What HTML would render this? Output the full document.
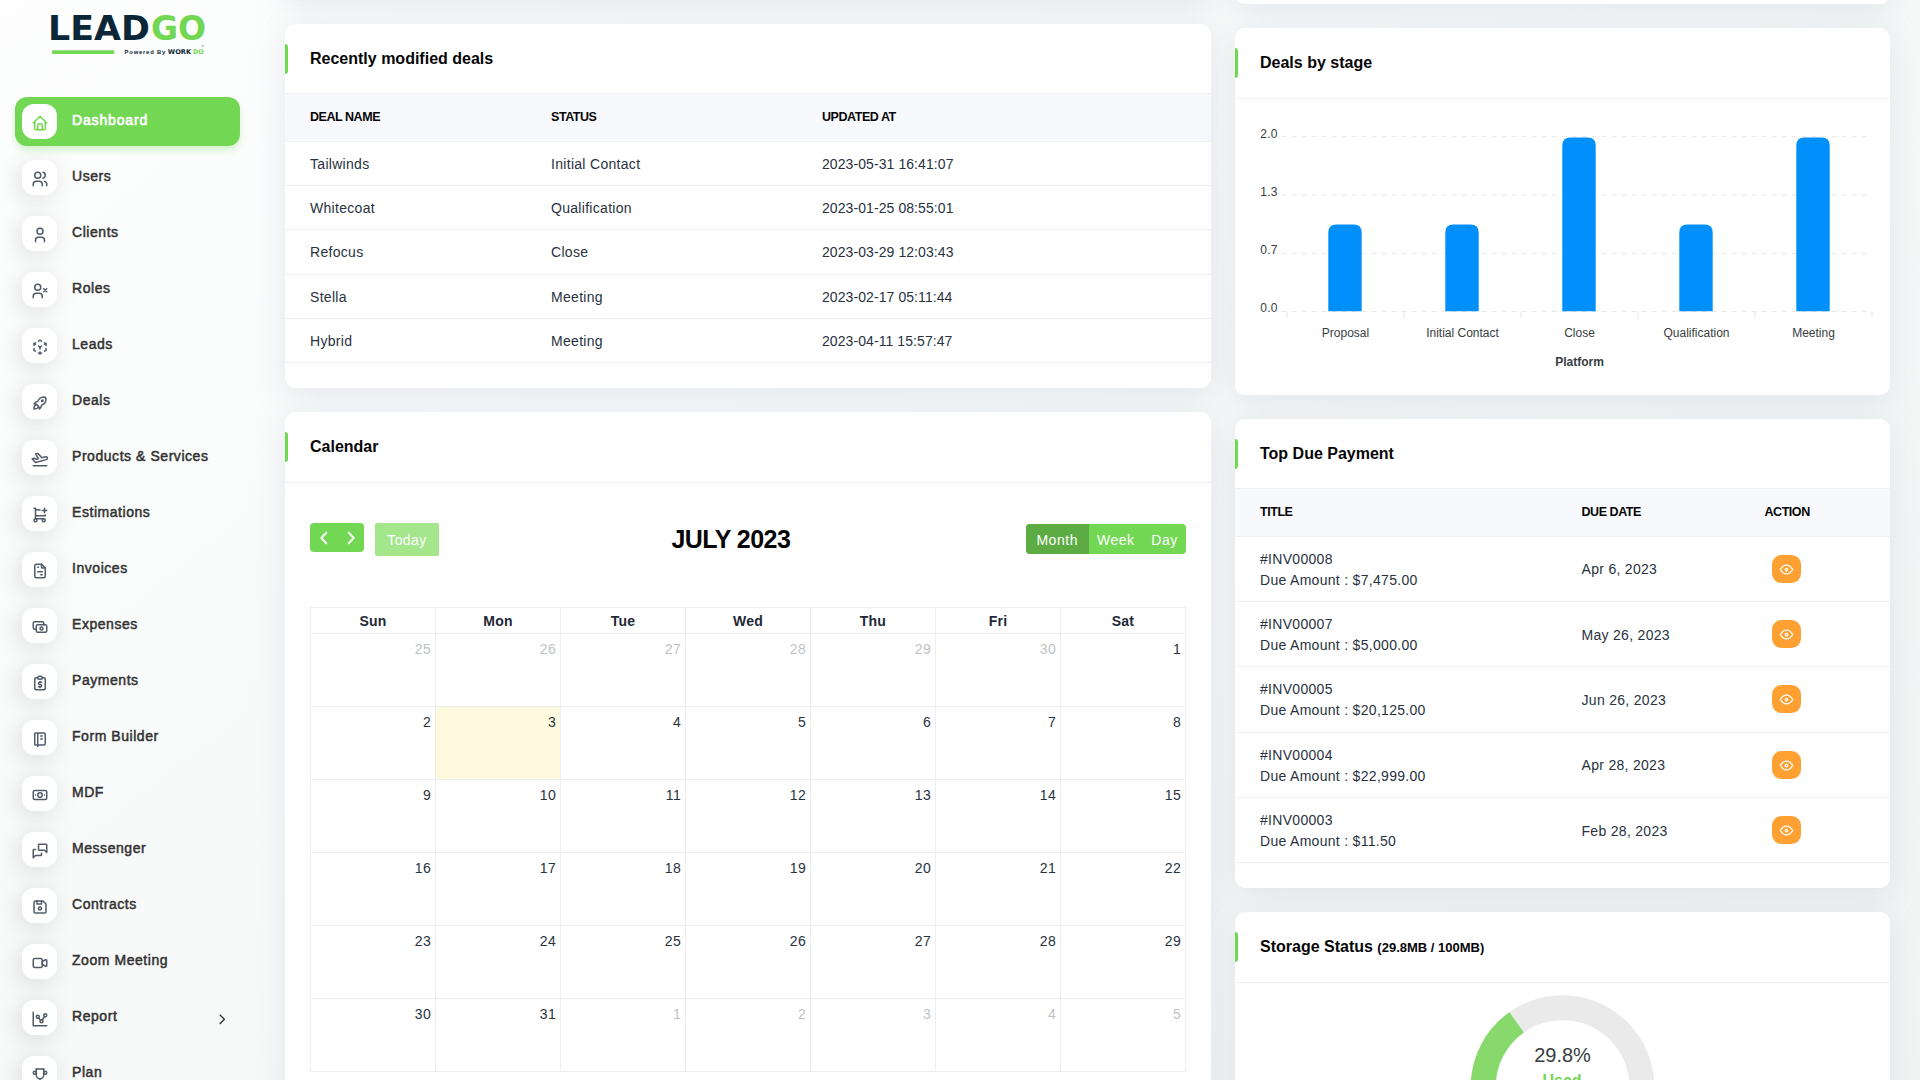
<!DOCTYPE html>
<html lang="en">
<head>
<meta charset="utf-8">
<title>LeadGo - Dashboard</title>
<style>
*{box-sizing:border-box;margin:0;padding:0}
html,body{width:1920px;height:1080px;overflow:hidden}
body{font-family:"Liberation Sans",sans-serif;font-size:14px;line-height:1.5;color:#293240;background:#fff}
.page{position:relative;width:1920px;height:1080px;overflow:hidden;background:linear-gradient(141.55deg,rgba(240,244,243,0) -15%,#f0f4f3 99.86%),#fff}
/* sidebar */
.sidebar{position:absolute;left:0;top:0;width:280px;height:1080px}
.logo{position:absolute;left:40px;top:0;width:200px;height:68px}
.logo text{font-family:"DejaVu Sans","Liberation Sans",sans-serif;font-weight:700}
.lg1{font-size:33.9px;fill:#0b2737}
.lg2{font-size:33.9px;fill:#72d753}
.logo .lg3{font-family:"Liberation Sans",sans-serif;font-size:5.9px;font-weight:700;fill:#0b2737}
.logo .lg4{font-size:6.5px;fill:#0b2737}
.logo .lg5{font-size:6.5px;fill:#72d753}
.menu{list-style:none;position:absolute;left:15px;top:97px;width:225px}
.item{position:relative;height:49px;margin-bottom:7px;border-radius:12px;display:flex;align-items:center;padding-left:7px;color:#333;font-weight:400;font-size:14px;-webkit-text-stroke:.5px currentColor}
.item.active{background:#72d753;color:#fff;box-shadow:0 5px 7px -1px rgba(114,215,83,.3)}
.micon{width:35px;height:35px;border-radius:12px;background:#fff;display:flex;align-items:center;justify-content:center;box-shadow:-3px 4px 23px rgba(0,0,0,.125);color:#525b69;flex:none}
.micon svg{display:block;position:relative;top:1px}
.item.active{-webkit-text-stroke:.65px currentColor}
.item.active .mtext{letter-spacing:.85px}
.item.active .micon{color:#72d753;box-shadow:none}
.mtext{margin-left:15px;position:relative;top:-1.5px;letter-spacing:.55px}
.arrow{position:absolute;left:198.6px;top:17.7px;color:#333}
/* cards */
.card{position:absolute;background:#fff;border-radius:10px;box-shadow:0 6px 30px rgba(182,186,203,.3)}
#c-top{left:285px;top:-40px;width:926px;height:40px}
#c-topr{left:1235px;top:-40px;width:655px;height:44px}
#c-deals{left:285px;top:24px;width:926px;height:364px}
#c-cal{left:285px;top:412px;width:926px;height:700px}
#c-stage{left:1235px;top:28px;width:655px;height:367px}
#c-due{left:1235px;top:419px;width:655px;height:468.5px}
#c-storage{left:1235px;top:912px;width:655px;height:300px}
.chead{position:relative;height:70px;border-bottom:1px solid #f1f1f1;padding:0 25px;display:flex;align-items:center}
.chead:before{content:"";position:absolute;left:0;top:20px;width:3px;height:30px;background:#72d753;border-radius:0 3px 3px 0}
.chead h5{font-size:16px;font-weight:700;color:#060606;line-height:1.2;position:relative;top:0}
.chead h5 small{font-size:13px;font-weight:700}
/* tables */
.tbl{width:100%;border-collapse:collapse;table-layout:fixed}
.tbl th{height:48px;background:#f8f9fd;border-bottom:1px solid #f1f1f1;text-align:left;font-size:12.5px;font-weight:700;color:#060606;text-transform:uppercase;padding:0 12px;letter-spacing:-.45px}
.tbl td{border-bottom:1px solid #f1f1f1;padding:0 12px;font-size:14px;color:#293240;letter-spacing:.3px}
.tbl th:first-child,.tbl td:first-child{padding-left:25px}
.t1 td{height:44.2px;padding-top:2px}.t1 td:nth-child(3){letter-spacing:.08px}.t1 th{height:47.5px}
.t1 th:nth-child(1){width:254px}.t1 th:nth-child(2){width:271px}
.t2 td{height:65.3px;line-height:21px;padding-top:2px}.t2 th{height:47.2px}
.t2 th:nth-child(1){width:334.5px}.t2 th:nth-child(2){width:183px}
.abtn{display:inline-flex;width:29px;height:28px;border-radius:9.5px;background:#ffa032;color:#fff;align-items:center;justify-content:center;margin-left:7.5px;vertical-align:middle}
.abtn{position:relative;top:-1px}
.abtn svg{position:relative;top:.4px}
/* calendar */
.calbody{position:relative;top:-1px}
.fc-tb{position:relative;height:125px}
.fc-nav{position:absolute;left:25px;top:41px;width:54px;height:29px;background:#72d753;border-radius:4px;display:flex}
.nb{width:27px;height:29px;display:flex;align-items:center;justify-content:center}
.fc-today{position:absolute;left:90px;top:41px;width:64px;height:33px;background:#a3e68c;border-radius:2px;color:#fff;font-size:14px;line-height:35px;text-align:center;letter-spacing:.45px}
.fc-title{position:absolute;left:386.5px;white-space:nowrap;top:37px;font-size:25px;font-weight:700;color:#060606;line-height:40px;letter-spacing:-.55px}
.fc-views{position:absolute;left:741px;top:42px;height:30px;display:flex;border-radius:4px;overflow:hidden;background:#72d753;color:#fff;font-size:14px;line-height:32px}
.vb{text-align:center;letter-spacing:.55px}
.vb:nth-child(1){width:62.5px}.vb:nth-child(2){width:54.5px}.vb:nth-child(3){width:43px}
.vb.on{background:#5dac43}
.cal{position:absolute;left:25px;top:125px;border-collapse:collapse;table-layout:fixed;width:876px}
.cal th,.cal td{border:1px solid #eee;width:125px}
.cal th{height:26px;padding-top:2px;font-size:14px;font-weight:700;color:#1f2937;text-align:center;letter-spacing:.2px}
.cal td{height:73px;vertical-align:top;text-align:right;padding:4.5px 4px 0 0;font-size:14px;color:#293240;letter-spacing:.3px}
.cal td.o span{opacity:.3}
.cal td.today{background:#fffadf}
/* chart */
.chart text{font-family:"Liberation Sans",sans-serif}
.xl{font-size:12px;fill:#373d3f}
.yl{font-size:12px;fill:#373d3f;letter-spacing:.2px;dominant-baseline:middle}
.xt{font-size:12px;font-weight:700;fill:#373d3f}
.rv{font-family:"Liberation Sans",sans-serif;font-size:20px;fill:#373d3f}
.rl{font-family:"Liberation Sans",sans-serif;font-size:16px;font-weight:700;fill:#72d753}

#c-cal .chead,#c-stage .chead,#c-storage .chead{height:71px}
#c-cal .chead:before,#c-stage .chead:before,#c-storage .chead:before{top:20px}

</style>
</head>
<body>
<div class="page">
<nav class="sidebar">
<div class="logo"><svg width="200" height="68" viewBox="0 0 200 68"><text class="lg1" x="8.05" y="40.3" textLength="101.8" lengthAdjust="spacingAndGlyphs">LEAD</text><text class="lg2" x="111" y="40.3" textLength="55.2" lengthAdjust="spacingAndGlyphs">GO</text><rect x="11.7" y="50.2" width="62.8" height="3.7" rx="1.85" fill="#72d753"/><text class="lg3" x="84.6" y="53.5" textLength="40.6" lengthAdjust="spacing">Powered By</text><text class="lg4" x="127.8" y="53.9" textLength="23.4" lengthAdjust="spacingAndGlyphs">WORK</text><text class="lg5" x="153" y="53.9" textLength="10.8" lengthAdjust="spacingAndGlyphs">DO</text><circle cx="162.9" cy="45.8" r="0.65" fill="#0b2737"/></svg></div>
<ul class="menu">
<li class="item active"><span class="micon"><svg class="ti" width="18" height="18" viewBox="0 0 24 24" fill="none" stroke="currentColor" stroke-width="2" stroke-linecap="round" stroke-linejoin="round"><polyline points="5 12 3 12 12 3 21 12 19 12"/><path d="M5 12v7a2 2 0 0 0 2 2h10a2 2 0 0 0 2 -2v-7"/><path d="M9 21v-6a2 2 0 0 1 2 -2h2a2 2 0 0 1 2 2v6"/></svg></span><span class="mtext">Dashboard</span></li>
<li class="item"><span class="micon"><svg class="ti" width="18" height="18" viewBox="0 0 24 24" fill="none" stroke="currentColor" stroke-width="2" stroke-linecap="round" stroke-linejoin="round"><circle cx="9" cy="7" r="4"/><path d="M3 21v-2a4 4 0 0 1 4 -4h4a4 4 0 0 1 4 4v2"/><path d="M16 3.13a4 4 0 0 1 0 7.75"/><path d="M21 21v-2a4 4 0 0 0 -3 -3.85"/></svg></span><span class="mtext">Users</span></li>
<li class="item"><span class="micon"><svg class="ti" width="18" height="18" viewBox="0 0 24 24" fill="none" stroke="currentColor" stroke-width="2" stroke-linecap="round" stroke-linejoin="round"><circle cx="12" cy="7" r="4"/><path d="M6 21v-2a4 4 0 0 1 4 -4h4a4 4 0 0 1 4 4v2"/></svg></span><span class="mtext">Clients</span></li>
<li class="item"><span class="micon"><svg class="ti" width="18" height="18" viewBox="0 0 24 24" fill="none" stroke="currentColor" stroke-width="2" stroke-linecap="round" stroke-linejoin="round"><circle cx="9" cy="7" r="4"/><path d="M3 21v-2a4 4 0 0 1 4 -4h4a4 4 0 0 1 4 4v2"/><path d="M17 9l4 4m0 -4l-4 4"/></svg></span><span class="mtext">Roles</span></li>
<li class="item"><span class="micon"><svg class="ti" width="18" height="18" viewBox="0 0 24 24" fill="none" stroke="currentColor" stroke-width="2" stroke-linecap="round" stroke-linejoin="round"><path d="M6 17.6l-2 -1.1v-2.5"/><path d="M4 10v-2.5l2 -1.1"/><path d="M10 4.1l2 -1.1l2 1.1"/><path d="M18 6.4l2 1.1v2.5"/><path d="M20 14v2.5l-2 1.12"/><path d="M14 19.9l-2 1.1l-2 -1.1"/><line x1="12" y1="12" x2="14" y2="10.9"/><line x1="18" y1="8.6" x2="20" y2="7.5"/><line x1="12" y1="12" x2="12" y2="14.5"/><line x1="12" y1="18.5" x2="12" y2="21"/><path d="M12 12l-2 -1.12"/><line x1="6" y1="8.6" x2="4" y2="7.5"/></svg></span><span class="mtext">Leads</span></li>
<li class="item"><span class="micon"><svg class="ti" width="18" height="18" viewBox="0 0 24 24" fill="none" stroke="currentColor" stroke-width="2" stroke-linecap="round" stroke-linejoin="round"><path d="M4 13a8 8 0 0 1 7 7a6 6 0 0 0 3 -5a9 9 0 0 0 6 -8a3 3 0 0 0 -3 -3a9 9 0 0 0 -8 6a6 6 0 0 0 -5 3"/><path d="M7 14a6 6 0 0 0 -3 6a6 6 0 0 0 6 -3"/><circle cx="15" cy="9" r="1"/></svg></span><span class="mtext">Deals</span></li>
<li class="item"><span class="micon"><svg class="ti" width="18" height="18" viewBox="0 0 24 24" fill="none" stroke="currentColor" stroke-width="2" stroke-linecap="round" stroke-linejoin="round"><path d="M15 12h5a2 2 0 0 1 0 4h-15l-3 -6h3l2 2h3l-2 -7h3z" transform="rotate(-15 12 12) translate(0 -1)"/><line x1="3" y1="21" x2="21" y2="21"/></svg></span><span class="mtext">Products &amp; Services</span></li>
<li class="item"><span class="micon"><svg class="ti" width="18" height="18" viewBox="0 0 24 24" fill="none" stroke="currentColor" stroke-width="2" stroke-linecap="round" stroke-linejoin="round"><circle cx="6" cy="19" r="2"/><circle cx="17" cy="19" r="2"/><path d="M17 17h-11v-14h-2"/><path d="M6 5l6.005 .429m7.138 6.573l-.143 .998h-13"/><path d="M15 6h6m-3 -3v6"/></svg></span><span class="mtext">Estimations</span></li>
<li class="item"><span class="micon"><svg class="ti" width="18" height="18" viewBox="0 0 24 24" fill="none" stroke="currentColor" stroke-width="2" stroke-linecap="round" stroke-linejoin="round"><path d="M14 3v4a1 1 0 0 0 1 1h4"/><path d="M17 21h-10a2 2 0 0 1 -2 -2v-14a2 2 0 0 1 2 -2h7l5 5v11a2 2 0 0 1 -2 2z"/><line x1="9" y1="7" x2="10" y2="7"/><line x1="9" y1="13" x2="15" y2="13"/><line x1="13" y1="17" x2="15" y2="17"/></svg></span><span class="mtext">Invoices</span></li>
<li class="item"><span class="micon"><svg class="ti" width="18" height="18" viewBox="0 0 24 24" fill="none" stroke="currentColor" stroke-width="2" stroke-linecap="round" stroke-linejoin="round"><rect x="7" y="9" width="14" height="10" rx="2"/><circle cx="14" cy="14" r="2"/><path d="M17 9v-2a2 2 0 0 0 -2 -2h-10a2 2 0 0 0 -2 2v6a2 2 0 0 0 2 2h2"/></svg></span><span class="mtext">Expenses</span></li>
<li class="item"><span class="micon"><svg class="ti" width="18" height="18" viewBox="0 0 24 24" fill="none" stroke="currentColor" stroke-width="2" stroke-linecap="round" stroke-linejoin="round"><path d="M9 5h-2a2 2 0 0 0 -2 2v12a2 2 0 0 0 2 2h10a2 2 0 0 0 2 -2v-12a2 2 0 0 0 -2 -2h-2"/><rect x="9" y="3" width="6" height="4" rx="2"/><path d="M14 11h-2.5a1.5 1.5 0 0 0 0 3h1a1.5 1.5 0 0 1 0 3h-2.5"/><path d="M12 17v1m0 -8v1"/></svg></span><span class="mtext">Payments</span></li>
<li class="item"><span class="micon"><svg class="ti" width="18" height="18" viewBox="0 0 24 24" fill="none" stroke="currentColor" stroke-width="2" stroke-linecap="round" stroke-linejoin="round"><path d="M6 4h11a2 2 0 0 1 2 2v12a2 2 0 0 1 -2 2h-11a1 1 0 0 1 -1 -1v-14a1 1 0 0 1 1 -1m3 0v18"/><line x1="13" y1="8" x2="15" y2="8"/><line x1="13" y1="12" x2="15" y2="12"/></svg></span><span class="mtext">Form Builder</span></li>
<li class="item"><span class="micon"><svg class="ti" width="18" height="18" viewBox="0 0 24 24" fill="none" stroke="currentColor" stroke-width="2" stroke-linecap="round" stroke-linejoin="round"><circle cx="12" cy="12" r="3"/><rect x="3" y="6" width="18" height="12" rx="2"/><line x1="18" y1="12" x2="18.01" y2="12"/><line x1="6" y1="12" x2="6.01" y2="12"/></svg></span><span class="mtext">MDF</span></li>
<li class="item"><span class="micon"><svg class="ti" width="18" height="18" viewBox="0 0 24 24" fill="none" stroke="currentColor" stroke-width="2" stroke-linecap="round" stroke-linejoin="round"><path d="M21 14l-3 -3h-7a1 1 0 0 1 -1 -1v-6a1 1 0 0 1 1 -1h9a1 1 0 0 1 1 1v10"/><path d="M14 15v2a1 1 0 0 1 -1 1h-7l-3 3v-10a1 1 0 0 1 1 -1h2"/></svg></span><span class="mtext">Messenger</span></li>
<li class="item"><span class="micon"><svg class="ti" width="18" height="18" viewBox="0 0 24 24" fill="none" stroke="currentColor" stroke-width="2" stroke-linecap="round" stroke-linejoin="round"><path d="M6 4h10l4 4v10a2 2 0 0 1 -2 2h-12a2 2 0 0 1 -2 -2v-12a2 2 0 0 1 2 -2"/><circle cx="12" cy="14" r="2"/><polyline points="14 4 14 8 8 8 8 4"/></svg></span><span class="mtext">Contracts</span></li>
<li class="item"><span class="micon"><svg class="ti" width="18" height="18" viewBox="0 0 24 24" fill="none" stroke="currentColor" stroke-width="2" stroke-linecap="round" stroke-linejoin="round"><path d="M15 10l4.553 -2.276a1 1 0 0 1 1.447 .894v6.764a1 1 0 0 1 -1.447 .894l-4.553 -2.276v-4z"/><rect x="3" y="6" width="12" height="12" rx="2"/></svg></span><span class="mtext">Zoom Meeting</span></li>
<li class="item"><span class="micon"><svg class="ti" width="18" height="18" viewBox="0 0 24 24" fill="none" stroke="currentColor" stroke-width="2" stroke-linecap="round" stroke-linejoin="round"><path d="M3 3v18h18"/><circle cx="9" cy="9" r="2"/><circle cx="19" cy="7" r="2"/><circle cx="14" cy="15" r="2"/><line x1="10.16" y1="10.62" x2="12.5" y2="13.5"/><path d="M15.088 13.328l2.837 -4.586"/></svg></span><span class="mtext">Report</span><svg class="arrow" width="16.6" height="16.6" viewBox="0 0 24 24" fill="none" stroke="currentColor" stroke-width="2" stroke-linecap="square" stroke-linejoin="miter"><polyline points="9 6 15 12 9 18"/></svg></li>
<li class="item"><span class="micon"><svg class="ti" width="18" height="18" viewBox="0 0 24 24" fill="none" stroke="currentColor" stroke-width="2" stroke-linecap="round" stroke-linejoin="round"><line x1="8" y1="21" x2="16" y2="21"/><line x1="12" y1="17" x2="12" y2="21"/><line x1="7" y1="4" x2="17" y2="4"/><path d="M17 4v8a5 5 0 0 1 -10 0v-8"/><circle cx="5" cy="9" r="2"/><circle cx="19" cy="9" r="2"/></svg></span><span class="mtext">Plan</span></li>
</ul></nav>
<main>
<section class="card" id="c-top"></section>
<section class="card" id="c-topr"></section>
<section class="card" id="c-deals"><header class="chead"><h5>Recently modified deals</h5></header>
<table class="tbl t1"><thead><tr><th>Deal Name</th><th>Status</th><th>Updated At</th></tr></thead><tbody>
<tr><td>Tailwinds</td><td>Initial Contact</td><td>2023-05-31 16:41:07</td></tr>
<tr><td>Whitecoat</td><td>Qualification</td><td>2023-01-25 08:55:01</td></tr>
<tr><td>Refocus</td><td>Close</td><td>2023-03-29 12:03:43</td></tr>
<tr><td>Stella</td><td>Meeting</td><td>2023-02-17 05:11:44</td></tr>
<tr><td>Hybrid</td><td>Meeting</td><td>2023-04-11 15:57:47</td></tr>
</tbody></table></section>
<section class="card" id="c-cal"><header class="chead"><h5>Calendar</h5></header><div class="calbody">
<div class="fc-tb"><div class="fc-nav"><span class="nb"><svg width="16" height="16" viewBox="0 0 24 24" fill="none" stroke="#fff" stroke-width="3" stroke-linecap="round" stroke-linejoin="round"><polyline points="15.5 4 8 12 15.5 20"/></svg></span><span class="nb"><svg width="16" height="16" viewBox="0 0 24 24" fill="none" stroke="#fff" stroke-width="3" stroke-linecap="round" stroke-linejoin="round"><polyline points="8.5 4 16 12 8.5 20"/></svg></span></div><div class="fc-today">Today</div><h2 class="fc-title">JULY 2023</h2><div class="fc-views"><span class="vb on">Month</span><span class="vb">Week</span><span class="vb">Day</span></div></div>
<table class="cal"><thead><tr><th>Sun</th><th>Mon</th><th>Tue</th><th>Wed</th><th>Thu</th><th>Fri</th><th>Sat</th></tr></thead><tbody>
<tr>
<td class="o"><span>25</span></td>
<td class="o"><span>26</span></td>
<td class="o"><span>27</span></td>
<td class="o"><span>28</span></td>
<td class="o"><span>29</span></td>
<td class="o"><span>30</span></td>
<td class=""><span>1</span></td>
</tr>
<tr>
<td class=""><span>2</span></td>
<td class="today"><span>3</span></td>
<td class=""><span>4</span></td>
<td class=""><span>5</span></td>
<td class=""><span>6</span></td>
<td class=""><span>7</span></td>
<td class=""><span>8</span></td>
</tr>
<tr>
<td class=""><span>9</span></td>
<td class=""><span>10</span></td>
<td class=""><span>11</span></td>
<td class=""><span>12</span></td>
<td class=""><span>13</span></td>
<td class=""><span>14</span></td>
<td class=""><span>15</span></td>
</tr>
<tr>
<td class=""><span>16</span></td>
<td class=""><span>17</span></td>
<td class=""><span>18</span></td>
<td class=""><span>19</span></td>
<td class=""><span>20</span></td>
<td class=""><span>21</span></td>
<td class=""><span>22</span></td>
</tr>
<tr>
<td class=""><span>23</span></td>
<td class=""><span>24</span></td>
<td class=""><span>25</span></td>
<td class=""><span>26</span></td>
<td class=""><span>27</span></td>
<td class=""><span>28</span></td>
<td class=""><span>29</span></td>
</tr>
<tr>
<td class=""><span>30</span></td>
<td class=""><span>31</span></td>
<td class="o"><span>1</span></td>
<td class="o"><span>2</span></td>
<td class="o"><span>3</span></td>
<td class="o"><span>4</span></td>
<td class="o"><span>5</span></td>
</tr>
</tbody></table></div></section>
<section class="card" id="c-stage"><header class="chead"><h5>Deals by stage</h5></header>
<svg class="chart" width="655" height="297" viewBox="0 0 655 297" style="position:absolute;left:0;top:70px">
<line x1="47" y1="38.67" x2="637" y2="38.67" stroke="#e7e7e7" stroke-width="1" stroke-dasharray="4.5 5.5"/>
<line x1="47" y1="97.00" x2="637" y2="97.00" stroke="#e7e7e7" stroke-width="1" stroke-dasharray="4.5 5.5"/>
<line x1="47" y1="155.33" x2="637" y2="155.33" stroke="#e7e7e7" stroke-width="1" stroke-dasharray="4.5 5.5"/>
<line x1="47" y1="213.50" x2="637" y2="213.50" stroke="#e7e7e7" stroke-width="1" stroke-dasharray="4.5 5.5"/>
<line x1="52" y1="213.5" x2="52" y2="220.5" stroke="#e7e7e7" stroke-width="1"/>
<line x1="169" y1="213.5" x2="169" y2="220.5" stroke="#e7e7e7" stroke-width="1"/>
<line x1="286" y1="213.5" x2="286" y2="220.5" stroke="#e7e7e7" stroke-width="1"/>
<line x1="403" y1="213.5" x2="403" y2="220.5" stroke="#e7e7e7" stroke-width="1"/>
<line x1="520" y1="213.5" x2="520" y2="220.5" stroke="#e7e7e7" stroke-width="1"/>
<line x1="637" y1="213.5" x2="637" y2="220.5" stroke="#e7e7e7" stroke-width="1"/>
<path d="M93.3 213.3V134.5Q93.3 126.5 101.3 126.5H118.7Q126.7 126.5 126.7 134.5V213.3Z" fill="#008ffb"/>
<text class="xl" x="110.5" y="239" text-anchor="middle">Proposal</text>
<path d="M210.3 213.3V134.5Q210.3 126.5 218.3 126.5H235.7Q243.7 126.5 243.7 134.5V213.3Z" fill="#008ffb"/>
<text class="xl" x="227.5" y="239" text-anchor="middle">Initial Contact</text>
<path d="M327.3 213.3V47.5Q327.3 39.5 335.3 39.5H352.7Q360.7 39.5 360.7 47.5V213.3Z" fill="#008ffb"/>
<text class="xl" x="344.5" y="239" text-anchor="middle">Close</text>
<path d="M444.3 213.3V134.5Q444.3 126.5 452.3 126.5H469.7Q477.7 126.5 477.7 134.5V213.3Z" fill="#008ffb"/>
<text class="xl" x="461.5" y="239" text-anchor="middle">Qualification</text>
<path d="M561.3 213.3V47.5Q561.3 39.5 569.3 39.5H586.7Q594.7 39.5 594.7 47.5V213.3Z" fill="#008ffb"/>
<text class="xl" x="578.5" y="239" text-anchor="middle">Meeting</text>
<text class="yl" x="25.299999999999955" y="36.47">2.0</text>
<text class="yl" x="25.299999999999955" y="94.80">1.3</text>
<text class="yl" x="25.299999999999955" y="153.13">0.7</text>
<text class="yl" x="25.299999999999955" y="211.30">0.0</text>
<text class="xt" x="344.5" y="267.8" text-anchor="middle">Platform</text>
</svg>
</section>
<section class="card" id="c-due"><header class="chead"><h5>Top Due Payment</h5></header>
<table class="tbl t2"><thead><tr><th>Title</th><th>Due Date</th><th>Action</th></tr></thead><tbody>
<tr><td>#INV00008<br>Due Amount : $7,475.00</td><td>Apr 6, 2023</td><td><span class="abtn"><svg class="" width="15" height="15" viewBox="0 0 24 24" fill="none" stroke="currentColor" stroke-width="2" stroke-linecap="round" stroke-linejoin="round"><circle cx="12" cy="12" r="2"/><path d="M22 12c-2.667 4.667 -6 7 -10 7s-7.333 -2.333 -10 -7c2.667 -4.667 6 -7 10 -7s7.333 2.333 10 7"/></svg></span></td></tr>
<tr><td>#INV00007<br>Due Amount : $5,000.00</td><td>May 26, 2023</td><td><span class="abtn"><svg class="" width="15" height="15" viewBox="0 0 24 24" fill="none" stroke="currentColor" stroke-width="2" stroke-linecap="round" stroke-linejoin="round"><circle cx="12" cy="12" r="2"/><path d="M22 12c-2.667 4.667 -6 7 -10 7s-7.333 -2.333 -10 -7c2.667 -4.667 6 -7 10 -7s7.333 2.333 10 7"/></svg></span></td></tr>
<tr><td>#INV00005<br>Due Amount : $20,125.00</td><td>Jun 26, 2023</td><td><span class="abtn"><svg class="" width="15" height="15" viewBox="0 0 24 24" fill="none" stroke="currentColor" stroke-width="2" stroke-linecap="round" stroke-linejoin="round"><circle cx="12" cy="12" r="2"/><path d="M22 12c-2.667 4.667 -6 7 -10 7s-7.333 -2.333 -10 -7c2.667 -4.667 6 -7 10 -7s7.333 2.333 10 7"/></svg></span></td></tr>
<tr><td>#INV00004<br>Due Amount : $22,999.00</td><td>Apr 28, 2023</td><td><span class="abtn"><svg class="" width="15" height="15" viewBox="0 0 24 24" fill="none" stroke="currentColor" stroke-width="2" stroke-linecap="round" stroke-linejoin="round"><circle cx="12" cy="12" r="2"/><path d="M22 12c-2.667 4.667 -6 7 -10 7s-7.333 -2.333 -10 -7c2.667 -4.667 6 -7 10 -7s7.333 2.333 10 7"/></svg></span></td></tr>
<tr><td>#INV00003<br>Due Amount : $11.50</td><td>Feb 28, 2023</td><td><span class="abtn"><svg class="" width="15" height="15" viewBox="0 0 24 24" fill="none" stroke="currentColor" stroke-width="2" stroke-linecap="round" stroke-linejoin="round"><circle cx="12" cy="12" r="2"/><path d="M22 12c-2.667 4.667 -6 7 -10 7s-7.333 -2.333 -10 -7c2.667 -4.667 6 -7 10 -7s7.333 2.333 10 7"/></svg></span></td></tr>
</tbody></table></section>
<section class="card" id="c-storage"><header class="chead"><h5>Storage Status <small>(29.8MB / 100MB)</small></h5></header>
<svg width="655" height="110" viewBox="0 0 655 110" style="position:absolute;left:0;top:71px">
<path d="M248.20 104.00A79.3 79.3 0 0 1 406.80 104.00" fill="none" stroke="#eaeaea" stroke-width="25"/>
<path d="M248.20 104.00A79.3 79.3 0 0 1 281.56 39.36" fill="none" stroke="#86d96a" stroke-width="25"/>
<text class="rv" x="327.5" y="79" text-anchor="middle">29.8%</text>
<text class="rl" x="327.0" y="102.59999999999991" text-anchor="middle">Used</text>
</svg>
</section>
</main>
</div>
</body>
</html>
